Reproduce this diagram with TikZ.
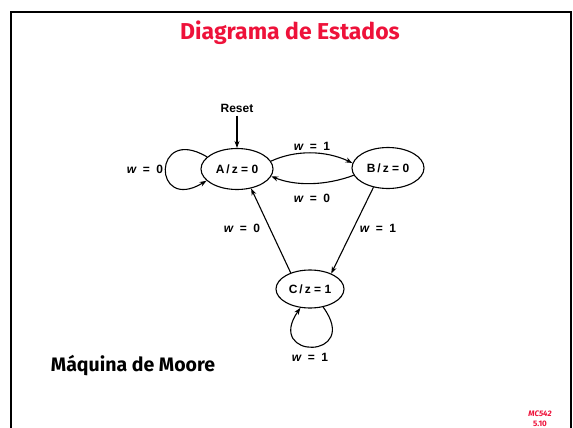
\documentclass[tikz,border=0pt]{standalone}
\usepackage{fontspec}
\setmainfont{Liberation Sans}
\newfontfamily\slidefont{Fira Sans}
\usetikzlibrary{arrows.meta}
\usetikzlibrary{shapes.geometric}
\definecolor{slidered}{RGB}{238,18,58}
\newcommand{\wlab}[1]{{\itshape w}\ \ =\ \ #1}

\begin{document}
\begin{tikzpicture}[x=1pt,y=-1pt,
  state/.style={draw,ellipse,line width=1.1pt,minimum width=72pt,minimum height=41pt,inner sep=0pt,font=\fontsize{12}{14}\selectfont\bfseries},
  lab/.style={font=\fontsize{12}{14}\selectfont\bfseries},
  trans/.style={line width=1.1pt,-{Stealth[length=7pt,width=5pt]}}]

\useasboundingbox (0,0) rectangle (573,428);
\clip (0,0) rectangle (573,428);

% slide frame
\draw [line width=2.6pt] (11,450) -- (11,12) -- (571,12) -- (571,450);

% slide texts
\node (title) at (290,33) {\slidefont\fontsize{23}{26}\selectfont\bfseries\color{slidered}Diagrama de Estados};
\node (moore) at (133,366) {\slidefont\fontsize{19.5}{22}\selectfont\bfseries Máquina de Moore};
\node (code) at (540,414) {\slidefont\fontsize{8}{9}\selectfont\bfseries\itshape\color{slidered}MC542};
\node (page) at (540,424) {\slidefont\fontsize{8}{9}\selectfont\bfseries\color{slidered}5.10};

% states
\node [state] (A) at (237,169) {A\,/\,z = 0};
\node [state] (B) at (388,168) {B\,/\,z = 0};
\node [state,minimum width=68pt,minimum height=38pt] (C) at (310,289) {C\,/\,z = 1};
\node [lab] (reset) at (237,108) {Reset};

% transitions
\draw [trans] (reset) -- (A);
\draw [trans] (A.158) .. controls (152,124) and (152,214) .. (A.201);
\draw [trans] (A.13) .. controls (295,150) and (325,150) .. (B.172);
\draw [trans] (B.192) .. controls (325,186) and (295,186) .. (A.348);
\draw [trans] (B.233) -- (C.36);
\draw [trans] (C.140) -- (A.306);
\draw [trans] (C.306) .. controls (362,360) and (264,360) .. (C.243);

% transition labels
\node [lab] (wA) at (145,169) {\wlab{0}};
\node [lab] (wAB) at (312,146) {\wlab{1}};
\node [lab] (wBA) at (312,198) {\wlab{0}};
\node [lab] (wCA) at (242,228) {\wlab{0}};
\node [lab] (wBC) at (378,228) {\wlab{1}};
\node [lab] (wC) at (310,357) {\wlab{1}};

\end{tikzpicture}
\end{document}
